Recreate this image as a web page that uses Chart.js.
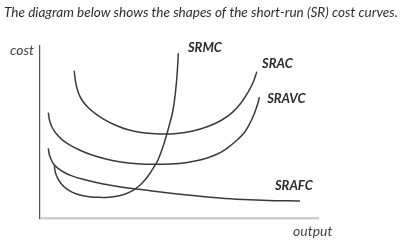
<!DOCTYPE html>
<html>
<head>
<meta charset="utf-8">
<script src="https://cdn.jsdelivr.net/npm/chart.js@4.4.0/dist/chart.umd.min.js"></script>
<style>
html,body{margin:0;padding:0;background:#ffffff;}
#wrap{position:relative;width:402px;height:244px;}
</style>
</head>
<body>
<div id="wrap"><canvas id="c" width="402" height="244"></canvas></div>
<script>
// ---- text ----
const titleText = "The diagram below shows the shapes of the short-run (SR) cost curves.";
const xAxisLabel = "output";
const yAxisLabel = "cost";
const curveNames = ["SRMC", "SRAC", "SRAVC", "SRAFC"];

// ---- series (output, cost), both axes 0..100 ----
const srmcOutput = [5.14, 5.50, 6.29, 7.55, 9.35, 11.69, 14.39, 17.63, 21.22, 24.82, 28.06, 30.94, 33.45, 35.61, 37.59, 39.39, 41.01, 42.45, 43.71, 44.78, 45.68, 46.58, 47.48, 48.20, 48.74, 49.17, 49.50, 49.75];
const srmcCost   = [30.2, 26.7, 23.3, 20.1, 17.2, 14.9, 13.4, 12.4, 12.0, 12.1, 12.8, 14.1, 16.0, 18.6, 21.8, 25.6, 29.7, 33.7, 39.0, 44.2, 49.1, 54.4, 59.9, 66.3, 73.3, 80.5, 88.1, 95.8];

const sracOutput = [12.3, 12.8, 13.7, 15.1, 17.3, 19.8, 23.0, 27.0, 31.7, 37.1, 43.2, 49.3, 55.0, 60.4, 65.1, 69.1, 72.3, 74.8, 76.8, 78.0];
const sracCost   = [85.6, 79.1, 73.3, 68.6, 64.2, 60.8, 57.3, 54.1, 51.3, 49.5, 48.8, 49.1, 50.6, 53.2, 56.7, 61.3, 66.9, 73.0, 79.4, 85.1];

const sravcOutput = [3.0, 3.4, 4.3, 5.8, 7.9, 10.8, 14.4, 18.7, 23.7, 29.1, 34.9, 41.0, 47.1, 52.9, 58.3, 63.0, 66.9, 70.5, 73.4, 75.2, 76.6, 77.7, 78.5, 78.9];
const sravcCost   = [61.2, 57.0, 52.9, 49.1, 45.6, 42.4, 39.4, 36.6, 34.3, 32.6, 31.6, 31.2, 31.4, 32.3, 34.0, 36.6, 40.1, 44.8, 49.4, 54.1, 58.7, 63.4, 67.4, 70.2];

const srafcOutput = [3.0, 3.3, 4.0, 5.0, 6.5, 8.6, 11.5, 15.1, 19.8, 25.9, 32.4, 39.6, 48.6, 57.6, 66.5, 75.5, 84.5, 93.5];
const srafcCost   = [40.5, 37.2, 34.0, 31.1, 28.8, 26.6, 24.5, 22.7, 20.8, 18.9, 17.3, 15.9, 14.1, 12.6, 11.4, 10.6, 10.1, 9.9];

// label anchors (data coords: left edge, baseline)
const labelAnchors = {
  SRMC:  {x: 53.2, y: 96.7},
  SRAC:  {x: 79.9, y: 87.2},
  SRAVC: {x: 81.7, y: 66.9},
  SRAFC: {x: 84.5, y: 16.3}
};

function pts(xs, ys){ return xs.map((x,i)=>({x:x, y:ys[i]})); }

const lineColor = '#3a3a3a';
function ds(name, xs, ys){
  return {label:name, data:pts(xs,ys), borderColor:lineColor, borderWidth:1.5,
          pointRadius:0, tension:0.3, fill:false, clip:false};
}

const textPlugin = {
  id:'texts',
  afterDraw(chart){
    const ctx = chart.ctx, a = chart.chartArea;
    const xs = chart.scales.x, ys = chart.scales.y;
    ctx.save();
    // title
    ctx.fillStyle = '#2e2e2e';
    ctx.textAlign = 'left';
    ctx.textBaseline = 'alphabetic';
    let fs = 12;
    ctx.font = 'italic ' + fs + 'px Lato';
    const w = ctx.measureText(titleText).width;
    fs = fs * 394 / w;
    ctx.font = 'italic ' + fs.toFixed(2) + 'px Lato';
    ctx.fillText(titleText, 4, 17);
    // axis labels
    ctx.font = 'italic 14px Lato';
    ctx.fillStyle = '#444444';
    ctx.textAlign = 'right';
    ctx.fillText(yAxisLabel, a.left - 6, a.top + 9);
    ctx.textAlign = 'left';
    ctx.fillText(xAxisLabel, a.right - 25, a.bottom + 18);
    // curve labels
    ctx.font = 'italic bold 13px Lato';
    ctx.fillStyle = '#2a2a2a';
    curveNames.forEach(n=>{
      const p = labelAnchors[n];
      ctx.fillText(n, xs.getPixelForValue(p.x), ys.getPixelForValue(p.y));
    });
    ctx.restore();
  }
};

new Chart(document.getElementById('c'), {
  type:'line',
  data:{ datasets:[
    ds(curveNames[0], srmcOutput, srmcCost),
    ds(curveNames[1], sracOutput, sracCost),
    ds(curveNames[2], sravcOutput, sravcCost),
    ds(curveNames[3], srafcOutput, srafcCost)
  ]},
  options:{
    responsive:false, animation:false, devicePixelRatio:1,
    layout:{padding:{left:40, right:84, top:46, bottom:26}},
    scales:{
      x:{type:'linear', min:0, max:100,
         grid:{display:false, drawTicks:false}, ticks:{display:false},
         border:{display:true, color:'#cfcfcf', width:2.5}},
      y:{type:'linear', min:0, max:100,
         grid:{display:false, drawTicks:false}, ticks:{display:false},
         border:{display:true, color:'#555555', width:1.2}}
    },
    plugins:{legend:{display:false}, tooltip:{enabled:false}, title:{display:false}}
  },
  plugins:[textPlugin]
});
</script>
</body>
</html>
